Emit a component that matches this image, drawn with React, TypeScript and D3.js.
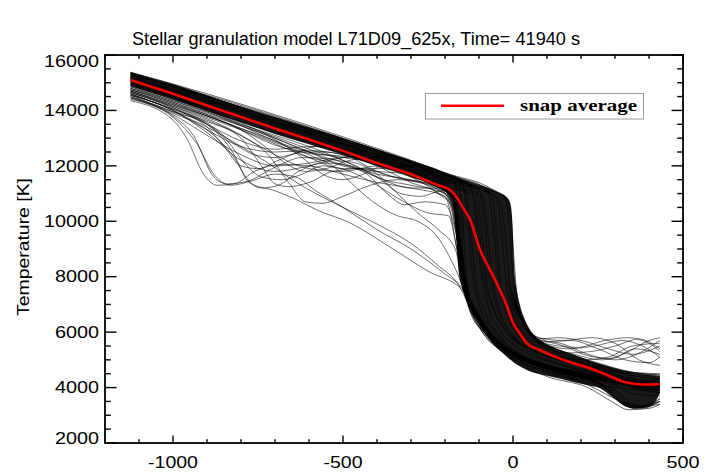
import React from 'react';
import * as d3 from 'd3';

type P = [number, number];

const W = 709;
const H = 472;

// axis ranges + ticks
const xDomain: P = [-1200, 500];
const yDomain: P = [2000, 16000];
const xMajor = [-1000, -500, 0, 500];
const yMajor = [2000, 4000, 6000, 8000, 10000, 12000, 14000, 16000];

const title = 'Stellar granulation model L71D09_625x, Time= 41940 s';
const yTitle = 'Temperature [K]';
const legendLabel = 'snap average';

// snap average (red)
const avgLine: P[] = [
  [-1125, 15100], [-1000, 14600], [-900, 14180], [-800, 13760], [-700, 13350],
  [-600, 12950], [-500, 12540], [-400, 12100], [-300, 11700], [-220, 11300],
  [-185, 11130], [-166, 10870], [-145, 10450], [-126, 10050], [-97, 8970],
  [-70, 8300], [-48, 7770], [-20, 7000], [0, 6330], [20, 5950], [40, 5610],
  [79, 5356], [130, 5080], [177, 4880], [230, 4680], [276, 4454], [320, 4230],
  [360, 4130], [400, 4110], [432, 4130],
];

// dense core of the snapshot bundle: [depth, lower T, upper T]
const coreBand: [number, number, number][] = [
  [-1125, 14880, 15390], [-1000, 14400, 14950], [-900, 13980, 14550],
  [-800, 13560, 14130], [-700, 13150, 13750], [-600, 12780, 13380],
  [-500, 12400, 13000], [-400, 12000, 12600], [-300, 11600, 12200],
  [-220, 11200, 11850], [-185, 10900, 11700], [-172, 10300, 11640],
  [-166, 9200, 11610], [-160, 8200, 11580], [-150, 7600, 11530],
  [-135, 7100, 11460], [-117, 6690, 11380], [-90, 6150, 11280],
  [-68, 5720, 11180], [-40, 5350, 11030], [-18, 5115, 10870],
  [-8, 5000, 10650], [-3, 4960, 10200], [0, 4930, 9400], [4, 4890, 8200],
  [10, 4840, 7600], [20, 4770, 7000], [35, 4670, 6450], [55, 4560, 6000],
  [80, 4480, 5700], [120, 4370, 5450], [177, 4200, 5180], [230, 4060, 4950],
  [256, 3980, 4850], [290, 3680, 4720], [320, 3400, 4620], [355, 3240, 4530],
  [390, 3270, 4460], [415, 3430, 4420], [432, 3800, 4400],
];

// individual snapshots inside the core
const coreLines: P[][] = [
  [[-1125,15350],[-900,14500],[-600,13350],[-300,12150],[-200,11700],[-170,11400],[-160,10000],[-150,8000],[-130,6900],[-90,6000],[-20,5200],[80,4600],[200,4200],[300,3600],[360,3250],[432,3500]],
  [[-1125,15250],[-900,14450],[-600,13300],[-300,12100],[-200,11650],[-150,11400],[-135,10200],[-120,8200],[-100,7000],[-60,6100],[0,5400],[100,4800],[220,4300],[300,3900],[370,3300],[432,3600]],
  [[-1125,15200],[-900,14400],[-600,13250],[-300,12050],[-200,11600],[-125,11300],[-110,10100],[-95,8300],[-75,7000],[-40,6100],[20,5400],[120,4900],[250,4500],[350,4000],[432,3800]],
  [[-1125,15150],[-900,14350],[-600,13200],[-300,12000],[-200,11550],[-100,11150],[-85,10000],[-70,8200],[-50,7000],[-10,6000],[50,5400],[150,4950],[280,4550],[380,4200],[432,4300]],
  [[-1125,15300],[-900,14550],[-600,13400],[-300,12150],[-200,11700],[-75,11150],[-60,10000],[-45,8200],[-25,6900],[10,6000],[70,5400],[170,5000],[290,4600],[432,4400]],
  [[-1125,15100],[-900,14300],[-600,13100],[-300,11900],[-200,11450],[-50,10900],[-35,9800],[-22,8000],[-5,6800],[30,5900],[90,5400],[200,4900],[320,4500],[432,4300]],
  [[-1125,15380],[-900,14600],[-600,13450],[-300,12200],[-200,11750],[-60,11150],[-25,10850],[-12,10000],[-3,8500],[8,7200],[30,6300],[70,5750],[150,5300],[260,4850],[350,4550],[432,4450]],
  [[-1125,15300],[-900,14500],[-600,13380],[-300,12150],[-200,11700],[-60,11100],[-20,10800],[-6,10200],[2,8800],[12,7300],[35,6300],[80,5700],[170,5200],[280,4750],[432,4400]],
  [[-1125,14950],[-900,14150],[-600,12950],[-300,11750],[-200,11300],[-165,11000],[-150,9200],[-140,7700],[-120,6700],[-70,5800],[0,5000],[100,4400],[220,4000],[290,3500],[340,3200],[400,3250],[432,3400]],
  [[-1125,15050],[-900,14250],[-600,13050],[-300,11850],[-200,11400],[-140,11100],[-125,9700],[-110,7900],[-85,6800],[-40,5900],[30,5100],[130,4600],[250,4200],[320,3500],[380,3250],[432,3500]],
  [[-1125,14900],[-900,14100],[-600,12900],[-300,11700],[-200,11250],[-115,10950],[-100,9700],[-85,8000],[-60,6900],[-15,6000],[50,5300],[150,4800],[270,4350],[350,3800],[432,3700]],
  [[-1125,15000],[-900,14200],[-600,13000],[-300,11800],[-200,11350],[-90,10900],[-75,9600],[-60,7900],[-40,6800],[0,5900],[60,5350],[170,4900],[300,4500],[400,4000],[432,4100]],
  [[-1125,15200],[-900,14400],[-600,13200],[-300,12000],[-200,11550],[-65,11000],[-50,9800],[-38,8000],[-18,6800],[15,5950],[80,5350],[190,4950],[310,4600],[432,4500]],
  [[-1125,15150],[-900,14350],[-600,13150],[-300,11950],[-200,11500],[-60,10950],[-38,10700],[-25,9800],[-12,8000],[2,6800],[30,6000],[90,5500],[200,5000],[320,4600],[432,4450]],
  [[-1125,15100],[-900,14300],[-600,13150],[-300,11950],[-200,11500],[-160,11300],[-148,10000],[-138,8200],[-120,7000],[-80,6100],[-10,5300],[90,4700],[200,4250],[300,4000],[432,3900]],
  [[-1125,15300],[-900,14500],[-600,13300],[-300,12100],[-200,11650],[-110,11200],[-95,10000],[-80,8100],[-58,6900],[-20,6000],[40,5450],[140,5000],[260,4600],[360,4300],[432,4200]],
];

// snapshots sagging below the core in the upper layers
const sagLines: P[][] = [
  [[-1125,14350],[-1000,13650],[-960,13000],[-910,11700],[-870,11300],[-820,11350],[-760,11800],[-680,12050],[-600,12000],[-500,11700],[-400,11400],[-300,11200],[-200,10900],[-165,9000],[-140,7300],[-100,6200],[-20,5200],[100,4600],[250,4200],[330,3450],[400,3350],[432,3600]],
  [[-1125,14450],[-1000,13800],[-940,13100],[-880,11600],[-840,11350],[-780,11450],[-700,11950],[-620,12300],[-540,12250],[-460,11900],[-380,11500],[-300,11300],[-200,11000],[-160,9200],[-130,7000],[-80,5900],[0,5100],[120,4500],[260,4100],[340,3300],[432,3500]],
  [[-1125,14550],[-1000,13950],[-900,13500],[-830,12600],[-780,11500],[-740,11200],[-690,11300],[-630,11800],[-560,12100],[-480,12000],[-400,11700],[-300,11500],[-200,11100],[-162,9500],[-135,7400],[-90,6200],[-10,5300],[100,4750],[250,4300],[432,3900]],
  [[-1125,14600],[-1000,14050],[-900,13600],[-800,13000],[-740,12000],[-700,11350],[-660,11250],[-600,11400],[-530,11800],[-450,11900],[-350,11600],[-250,11300],[-180,10800],[-158,8800],[-120,6800],[-60,5700],[40,5000],[200,4550],[432,4000]],
  [[-1125,14650],[-1000,14150],[-900,13700],[-800,13100],[-720,12400],[-660,11400],[-610,10700],[-560,10650],[-500,10900],[-420,11300],[-340,11500],[-260,11400],[-190,11000],[-160,9000],[-130,7200],[-80,6100],[20,5000],[150,4600],[432,4100]],
  [[-1125,14500],[-1000,13900],[-900,13300],[-820,12300],[-774,11380],[-700,11100],[-640,10800],[-577,10410],[-479,9940],[-362,9070],[-250,8200],[-147,7500],[-110,6700],[-60,5800],[30,5000],[150,4500],[300,4100],[432,3900]],
  [[-1125,14400],[-1000,13750],[-930,12800],[-880,11700],[-830,11300],[-770,11450],[-700,11700],[-640,11600],[-580,11100],[-500,10500],[-400,9700],[-300,9000],[-200,8100],[-150,7600],[-110,6800],[-50,5700],[50,4900],[200,4400],[432,4000]],
  [[-1125,14700],[-1000,14200],[-900,13750],[-800,13300],[-700,12800],[-600,12300],[-500,12050],[-430,11700],[-370,11000],[-320,10600],[-260,10700],[-200,10600],[-165,9400],[-140,7500],[-100,6400],[-30,5400],[80,4800],[200,4400],[300,3800],[360,3300],[432,3400]],
  [[-1125,14750],[-1000,14300],[-900,13850],[-800,13450],[-700,13000],[-600,12500],[-520,12200],[-460,12100],[-400,11700],[-340,11000],[-280,10300],[-220,9700],[-170,9000],[-150,7900],[-120,7000],[-70,6000],[10,5200],[120,4700],[300,4300],[432,4000]],
  [[-1125,14800],[-1000,14350],[-900,13900],[-800,13450],[-700,12950],[-620,12300],[-560,11700],[-500,11500],[-440,11700],[-380,12000],[-300,11800],[-230,11200],[-180,10700],[-160,9200],[-135,7600],[-90,6400],[0,5300],[100,4800],[250,4400],[432,4200]],
  [[-1125,14550],[-1000,14050],[-900,13500],[-840,12900],[-790,12100],[-740,11600],[-680,11500],[-620,11700],[-560,12000],[-480,11800],[-400,11300],[-320,10700],[-250,10300],[-190,10200],[-165,9000],[-140,7400],[-100,6300],[-20,5300],[100,4700],[250,4300],[432,3900]],
  [[-1125,14900],[-1000,14400],[-900,14000],[-800,13500],[-700,13050],[-600,12600],[-500,12200],[-400,11600],[-330,11000],[-270,10900],[-210,11100],[-170,10900],[-155,9000],[-130,7200],[-80,6100],[20,5100],[150,4600],[432,4100]],
  [[-1125,14650],[-1000,14100],[-900,13550],[-820,12800],[-760,12400],[-700,12300],[-640,12450],[-580,12700],[-520,12600],[-460,12200],[-400,11800],[-320,11500],[-240,11300],[-180,11000],[-160,9600],[-130,7300],[-85,6200],[0,5300],[120,4750],[280,4300],[432,4000]],
  [[-1125,14500],[-1000,13950],[-900,13400],[-800,12700],[-720,12100],[-650,11500],[-580,11000],[-500,10500],[-400,9900],[-300,9200],[-220,8400],[-160,7700],[-130,7000],[-80,6000],[0,5200],[120,4600],[300,4200],[432,3800]],
  [[-1125,14750],[-1000,14250],[-900,13800],[-800,13350],[-700,12850],[-600,12400],[-520,11900],[-460,11200],[-400,10600],[-340,10200],[-280,10000],[-220,9400],[-170,8300],[-145,7600],[-110,6800],[-50,5800],[50,5000],[200,4500],[432,4100]],
  [[-1125,14850],[-1000,14350],[-900,13950],[-800,13450],[-700,12900],[-600,12500],[-500,12300],[-400,12100],[-300,11600],[-230,11100],[-180,10600],[-160,9500],[-140,7800],[-100,6500],[-30,5500],[80,4900],[250,4500],[432,4200]],
  [[-1125,14700],[-1000,14200],[-900,13800],[-800,13300],[-730,12700],[-670,12100],[-610,11800],[-550,11900],[-480,12200],[-400,12300],[-320,12000],[-250,11500],[-190,11000],[-162,9800],[-138,7800],[-95,6500],[-20,5500],[100,4800],[280,4400],[432,4100]],
  [[-1125,14600],[-1000,14000],[-900,13400],[-850,12700],[-800,12000],[-750,11900],[-690,12200],[-620,12500],[-550,12500],[-470,12300],[-380,12000],[-290,11700],[-210,11300],[-170,10600],[-155,9200],[-130,7300],[-90,6300],[-10,5300],[120,4700],[300,4200],[432,3900]],
  // gentler ones hugging the underside of the core
  [[-1125,14800],[-1000,14300],[-900,13850],[-800,13300],[-700,12750],[-600,12450],[-500,12350],[-400,12200],[-300,11850],[-220,11400],[-175,10900],[-160,9200],[-140,7600],[-100,6400],[-20,5400],[100,4800],[260,4400],[432,4100]],
  [[-1125,14900],[-1000,14450],[-900,14000],[-800,13550],[-700,13000],[-600,12500],[-500,12000],[-400,11800],[-300,11700],[-220,11350],[-170,10700],[-158,9000],[-135,7300],[-95,6300],[-15,5350],[110,4750],[270,4350],[432,4050]],
  [[-1125,14600],[-1000,14000],[-900,13300],[-800,12700],[-700,12500],[-600,12550],[-500,12400],[-400,12000],[-300,11600],[-220,11200],[-172,10500],[-160,8800],[-138,7300],[-100,6300],[-20,5300],[100,4700],[260,4300],[432,4000]],
  [[-1125,14700],[-1000,14150],[-900,13650],[-800,13100],[-700,12400],[-600,11900],[-500,11800],[-400,12000],[-300,12000],[-220,11500],[-175,10800],[-162,9100],[-140,7500],[-100,6400],[-25,5400],[90,4800],[250,4400],[432,4100]],
  [[-1125,14950],[-1000,14500],[-900,14050],[-800,13600],[-700,13200],[-600,12850],[-500,12500],[-400,12000],[-300,11400],[-220,11000],[-172,10400],[-160,8900],[-140,7400],[-100,6300],[-20,5300],[100,4700],[260,4300],[432,4000]],
  [[-1125,14450],[-1000,13850],[-900,13100],[-800,12400],[-700,12000],[-600,12100],[-500,12300],[-400,12300],[-300,11900],[-220,11300],[-172,10600],[-160,9000],[-138,7400],[-98,6300],[-18,5300],[100,4700],[260,4250],[432,3950]],
  [[-1125,14850],[-1000,14400],[-900,13950],[-800,13500],[-700,13100],[-600,12700],[-500,12200],[-400,11600],[-300,11200],[-220,11200],[-172,10700],[-160,9100],[-140,7500],[-100,6400],[-20,5400],[100,4800],[260,4400],[432,4100]],
  [[-1125,14650],[-1000,14100],[-900,13500],[-800,12900],[-700,12600],[-600,12700],[-500,12600],[-400,12300],[-300,11800],[-220,11300],[-172,10600],[-160,9000],[-140,7400],[-100,6300],[-20,5300],[100,4700],[260,4300],[432,4000]],
  [[-1125,14550],[-1000,14000],[-900,13200],[-800,12200],[-700,11800],[-600,12000],[-500,12300],[-400,12400],[-300,12100],[-220,11500],[-172,10800],[-160,9200],[-140,7500],[-100,6400],[-20,5400],[100,4800],[260,4350],[432,4050]],
  [[-1125,14750],[-1000,14250],[-900,13800],[-800,13350],[-700,12900],[-600,12300],[-500,11900],[-400,11900],[-300,12000],[-220,11600],[-175,10900],[-162,9300],[-140,7600],[-100,6400],[-20,5400],[100,4800],[260,4400],[432,4100]],
];

// snapshots that stay warm in the deep layers
const warmLines: P[][] = [
  [[-10,7200],[30,6200],[70,5750],[130,5800],[200,5700],[280,5400],[350,5200],[432,5500]],
  [[-5,7500],[40,6100],[80,5700],[140,5600],[220,5200],[300,5000],[380,5300],[432,5700]],
  [[0,7300],[45,6000],[90,5600],[160,5400],[240,5500],[320,5700],[380,5500],[432,5100]],
  [[5,7000],[50,5900],[100,5500],[180,5200],[260,5000],[340,5300],[400,5700],[432,5800]],
  [[-15,7800],[35,6300],[75,5800],[150,5700],[230,5800],[300,5600],[370,5000],[432,4800]],
  [[10,6800],[60,5800],[120,5300],[200,5000],[280,5100],[350,5500],[432,5600]],
  [[0,7100],[50,5950],[110,5550],[190,5450],[270,5700],[340,5800],[400,5600],[432,5300]],
  [[-8,7400],[45,6050],[100,5650],[170,5700],[250,5400],[330,5000],[400,4900],[432,5100]],
  [[2,7200],[48,6000],[95,5500],[160,5250],[230,5300],[300,5500],[370,5750],[432,5400]],
  [[-3,7350],[42,6100],[85,5750],[150,5500],[220,5150],[290,5050],[360,5400],[432,5200]],
];

const App: React.FC = () => {
  const left = 105, right = 683, top = 55, bottom = 443;
  const x = d3.scaleLinear().domain(xDomain).range([left, right]);
  const y = d3.scaleLinear().domain(yDomain).range([bottom, top]);

  const line = d3.line<P>().x(d => x(d[0])).y(d => y(d[1])).curve(d3.curveMonotoneX);
  const area = d3.area<[number, number, number]>()
    .x(d => x(d[0])).y0(d => y(d[1])).y1(d => y(d[2]))
    .curve(d3.curveMonotoneX);

  const xMinor = d3.range(xDomain[0], xDomain[1] + 1, 100);
  const yMinor = d3.range(yDomain[0], yDomain[1] + 1, 500);
  const font = 'Liberation Sans, Arial, Helvetica, sans-serif';
  const labelWidth = (s: string) => s.replace('-', '').length * 11 + (s.startsWith('-') ? 6 : 0);

  return (
    <svg width={W} height={H} style={{ position: 'absolute', left: 0, top: 0, background: '#fff' }}>
      <rect width={W} height={H} fill="#fff" />
      <defs>
        <clipPath id="plot">
          <rect x={left} y={top} width={right - left} height={bottom - top} />
        </clipPath>
      </defs>

      <g clipPath="url(#plot)">
        <path d={area(coreBand) || ''} fill="#000" fillOpacity={0.9} />
        {sagLines.map((l, i) => (
          <path key={'s' + i} d={line(l) || ''} fill="none" stroke="#000" strokeWidth={0.7} strokeOpacity={0.8} />
        ))}
        {coreLines.map((l, i) => (
          <path key={'c' + i} d={line(l) || ''} fill="none" stroke="#000" strokeWidth={0.7} strokeOpacity={0.85} />
        ))}
        {warmLines.map((l, i) => (
          <path key={'w' + i} d={line(l) || ''} fill="none" stroke="#000" strokeWidth={0.7} strokeOpacity={0.8} />
        ))}
        <path d={line(avgLine) || ''} fill="none" stroke="#ff0000" strokeWidth={2.6} />
      </g>

      {/* frame + ticks, mirrored on all four sides */}
      <rect x={left} y={top} width={right - left} height={bottom - top} fill="none" stroke="#000" strokeWidth={1.8} />
      {xMinor.map(v => {
        const len = xMajor.includes(v) ? 7.5 : 3.8;
        return (
          <g key={'xt' + v}>
            <line x1={x(v)} x2={x(v)} y1={bottom} y2={bottom - len} stroke="#000" strokeWidth={1.4} />
            <line x1={x(v)} x2={x(v)} y1={top} y2={top + len} stroke="#000" strokeWidth={1.4} />
          </g>
        );
      })}
      {yMinor.map(v => {
        const len = yMajor.includes(v) ? 11.5 : 5.8;
        return (
          <g key={'yt' + v}>
            <line x1={left} x2={left + len} y1={y(v)} y2={y(v)} stroke="#000" strokeWidth={1.4} />
            <line x1={right} x2={right - len} y1={y(v)} y2={y(v)} stroke="#000" strokeWidth={1.4} />
          </g>
        );
      })}

      {xMajor.map(v => {
        const s = String(v);
        return (
          <text key={'xl' + v} x={x(v)} y={468} textAnchor="middle" fontFamily={font} fontSize={17}
            textLength={labelWidth(s)} lengthAdjust="spacingAndGlyphs">{s}</text>
        );
      })}
      {yMajor.map(v => {
        const s = String(v);
        // end labels sit a little inside the axis
        const shift = v === yDomain[1] ? 6 : v === yDomain[0] ? -5 : 0;
        return (
          <text key={'yl' + v} x={99} y={y(v) + 5.7 + shift} textAnchor="end" fontFamily={font} fontSize={16}
            textLength={labelWidth(s)} lengthAdjust="spacingAndGlyphs">{s}</text>
        );
      })}

      <text x={356} y={44.5} textAnchor="middle" fontFamily={font} fontSize={17.5}
        textLength={448} lengthAdjust="spacingAndGlyphs">{title}</text>
      <text transform={`translate(29,${(top + bottom) / 2 - 2}) rotate(-90)`} textAnchor="middle" fontFamily={font}
        fontSize={17} textLength={138} lengthAdjust="spacingAndGlyphs">{yTitle}</text>

      {/* legend */}
      <rect x={425.5} y={93.5} width={218} height={25.5} fill="#fff" stroke="#999" strokeWidth={1} />
      <line x1={441} x2={504} y1={105.7} y2={105.7} stroke="#ff0000" strokeWidth={2.6} />
      <text x={520} y={111} fontFamily="Liberation Serif, DejaVu Serif, serif" fontWeight="bold" fontSize={17}
        textLength={117} lengthAdjust="spacingAndGlyphs">{legendLabel}</text>
    </svg>
  );
};

export default App;
